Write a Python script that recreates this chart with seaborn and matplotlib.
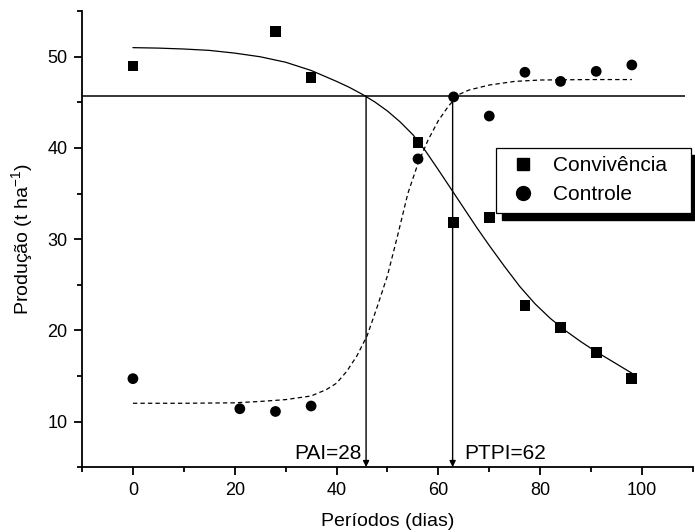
import matplotlib

matplotlib.use("Agg")
import matplotlib.pyplot as plt
import pandas as pd
import seaborn as sns
from matplotlib.lines import Line2D
from matplotlib.patches import Rectangle
from matplotlib.ticker import MultipleLocator

# observed points
conv_dias = [0, 28, 35, 56, 63, 70, 77, 84, 91, 98]
conv_prod = [49.0, 52.8, 47.7, 40.6, 31.8, 32.4, 22.7, 20.3, 17.6, 14.7]
ctrl_dias = [0, 21, 28, 35, 56, 63, 70, 77, 84, 91, 98]
ctrl_prod = [14.7, 11.4, 11.1, 11.7, 38.8, 45.6, 43.5, 48.3, 47.3, 48.4, 49.1]

# fitted curves
conv_curva_dias = [0, 5, 10, 15, 20, 25, 30, 35, 40, 42.5, 45, 47.5, 50, 52.5, 55, 57.5, 60,
                   62.5, 65, 67.5, 70, 73, 76, 79, 82, 85, 88, 91, 94, 98]
conv_curva_prod = [51.0, 50.95, 50.85, 50.7, 50.4, 50.0, 49.4, 48.5, 47.3, 46.65, 45.9, 45.05,
                   44.05, 42.85, 41.45, 39.65, 37.6, 35.5, 33.4, 31.3, 29.3, 27.0, 24.8, 22.9,
                   21.3, 19.95, 18.75, 17.65, 16.65, 15.3]
ctrl_curva_dias = [0, 10, 20, 25, 30, 35, 38, 40, 42, 44, 46, 48, 50, 52, 54, 56, 58, 60,
                   62, 64, 66, 70, 75, 80, 90, 98]
ctrl_curva_prod = [12.0, 12.0, 12.05, 12.2, 12.4, 12.8, 13.5, 14.2, 15.5, 17.2, 19.4, 22.6,
                   26.0, 30.4, 35.0, 38.3, 40.9, 43.0, 44.6, 45.85, 46.35, 46.9, 47.3, 47.45,
                   47.5, 47.5]

nivel = 45.7          # horizontal reference level
nivel_fim = 108.4
pai_dia = 45.8
ptpi_dia = 62.8
ptpi_topo = 45.6
rotulos = ["PAI=28", "PTPI=62"]

sns.set_theme(style="ticks")
plt.rcParams["font.family"] = ["Liberation Sans", "DejaVu Sans"]
plt.rcParams["mathtext.default"] = "regular"
for key in ("text.color", "axes.labelcolor", "xtick.color", "ytick.color", "axes.edgecolor"):
    plt.rcParams[key] = "black"

fig = plt.figure(figsize=(6.95, 5.32), dpi=100)
ax = fig.add_axes([0.118, 0.122, 0.879, 0.857])

pts = pd.concat([
    pd.DataFrame({"dias": conv_dias, "prod": conv_prod, "trat": "Convivência"}),
    pd.DataFrame({"dias": ctrl_dias, "prod": ctrl_prod, "trat": "Controle"}),
])
sns.scatterplot(data=pts, x="dias", y="prod", style="trat",
                markers={"Convivência": "s", "Controle": "o"},
                color="black", s=60, edgecolor="none", legend=False, ax=ax, zorder=3)

sns.lineplot(x=conv_curva_dias, y=conv_curva_prod, color="black", lw=0.9,
             sort=False, estimator=None, ax=ax)
sns.lineplot(x=ctrl_curva_dias, y=ctrl_curva_prod, color="black", lw=0.9,
             sort=False, estimator=None, ax=ax, linestyle=(0, (3.5, 2.5)))

ax.set_xlim(-10, 110)
ax.set_ylim(5, 55)
ymin = ax.get_ylim()[0]

ax.hlines(nivel, ax.get_xlim()[0], nivel_fim, color="black", lw=1.1)
arrow = dict(arrowstyle="-|>", color="black", lw=1.0, mutation_scale=9,
             shrinkA=0, shrinkB=0)
ax.annotate("", xy=(pai_dia, ymin), xytext=(pai_dia, nivel), arrowprops=arrow)
ax.annotate("", xy=(ptpi_dia, ymin), xytext=(ptpi_dia, ptpi_topo), arrowprops=arrow)
ax.text(pai_dia - 0.8, ymin + 0.9, rotulos[0], ha="right", va="baseline", fontsize=15)
ax.text(ptpi_dia + 2.2, ymin + 0.9, rotulos[1], ha="left", va="baseline", fontsize=15)

sns.despine(ax=ax)
for sp in ("left", "bottom"):
    ax.spines[sp].set_linewidth(1.3)
ax.xaxis.set_major_locator(MultipleLocator(20))
ax.xaxis.set_minor_locator(MultipleLocator(10))
ax.yaxis.set_major_locator(MultipleLocator(10))
ax.yaxis.set_minor_locator(MultipleLocator(5))
ax.tick_params(which="major", length=5.5, width=1.3, labelsize=13, pad=5)
ax.tick_params(which="minor", length=3.5, width=1.3)
ax.set_xticks([0, 20, 40, 60, 80, 100])

ax.set_xlabel("Períodos (dias)", fontsize=14, labelpad=10)
ax.set_ylabel("Produção (t ha$^{-1}$)", fontsize=14, labelpad=9)

handles = [
    Line2D([], [], marker="s", color="black", ls="none", markersize=8.5),
    Line2D([], [], marker="o", color="black", ls="none", markersize=10),
]
leg = ax.legend(handles, ["Convivência", "Controle"], loc="upper left",
                bbox_to_anchor=(0.677, 0.5586, 0.32, 0.1414), mode="expand",
                borderaxespad=0, fontsize=15, frameon=True, fancybox=False,
                borderpad=0.41, handlelength=1.78, handletextpad=0.55,
                labelspacing=0.46)
leg.get_frame().set_edgecolor("black")
leg.get_frame().set_linewidth(0.9)
leg.get_frame().set_alpha(1)
leg.set_zorder(6)

# solid drop shadow behind the legend
fig.canvas.draw()
bb = leg.get_window_extent().transformed(fig.transFigure.inverted())
dx, dy = 6.5 / fig.bbox.width, 7.5 / fig.bbox.height
ax.add_artist(Rectangle((bb.x0 + dx, bb.y0 - dy), bb.width, bb.height,
                        transform=fig.transFigure, color="black", zorder=5,
                        clip_on=False))

fig.savefig("out.png", dpi=100)
plt.close(fig)
